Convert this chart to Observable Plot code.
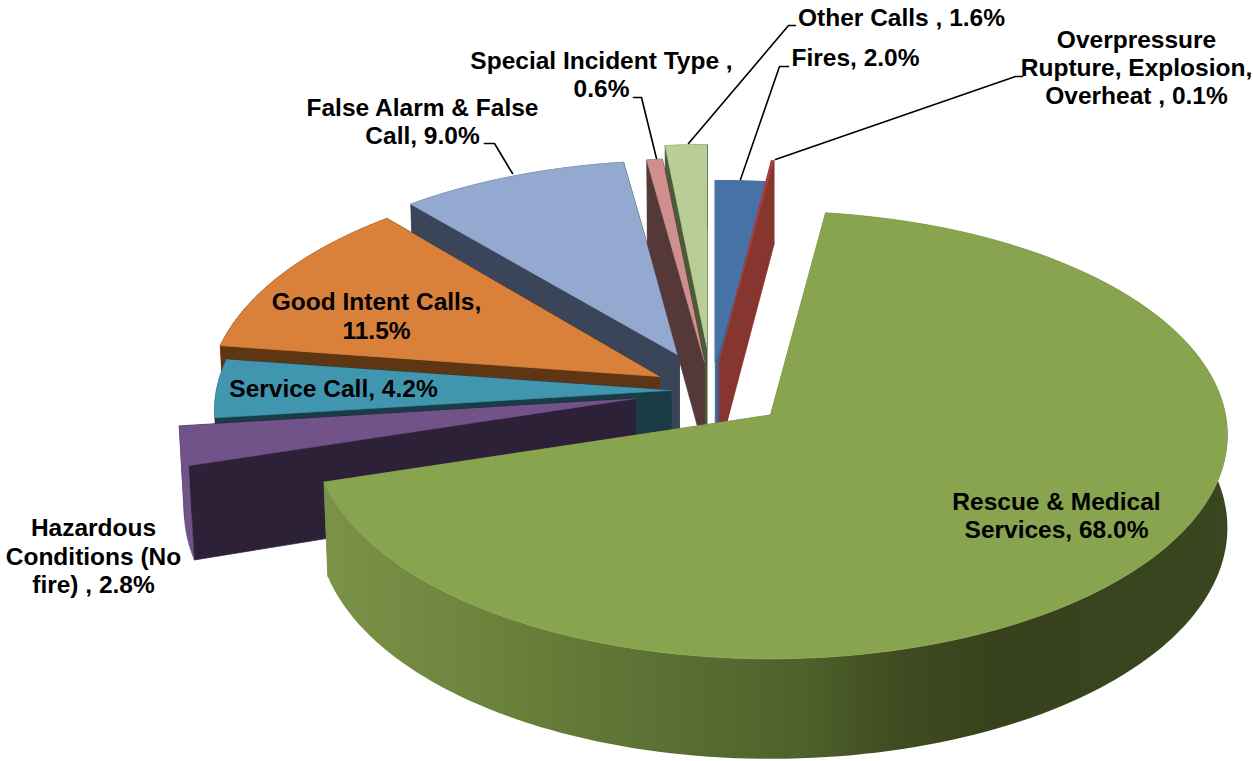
<!DOCTYPE html>
<html>
<head>
<meta charset="utf-8">
<script src="https://cdn.jsdelivr.net/npm/d3@7"></script>
<script src="https://cdn.jsdelivr.net/npm/@observablehq/plot@0.6"></script>
<style>
html,body{margin:0;padding:0;background:#fff;overflow:hidden}
svg{display:block}
</style>
</head>
<body>
<div id="chart"></div>
<script>
// Data
const categories = ["Fires","Overpressure Rupture, Explosion, Overheat","Rescue & Medical Services","Hazardous Conditions (No fire)","Service Call","Good Intent Calls","False Alarm & False Call","Special Incident Type","Other Calls"];
const shares = [2.0,0.1,68.0,2.8,4.2,11.5,9.0,0.6,1.6];
const labelTexts = ["Fires, 2.0%","Overpressure\nRupture, Explosion,\nOverheat , 0.1%","Rescue & Medical\nServices, 68.0%","Hazardous\nConditions (No\nfire) , 2.8%","Service Call, 4.2%","Good Intent Calls,\n11.5%","False Alarm & False\nCall, 9.0%","Special Incident Type ,\n0.6%","Other Calls , 1.6%"];

// Look of the slices
const topColors = ["#4672a8","#a8403e","#88a44e","#715289","#4095af","#d9813b","#93a9cf","#cf8f8e","#b9cd96"];
const wallColors = ["#3a6696","#87352f","#78914a","#2c2137","#1a3c47","#5e3614","#3b4559","#553838","#4c5a38"];
const rimColors = ["#3a6696","#87352f","url(#greenWall)","#715289","#1a3c47","#5e3614","#3b4559","#553838","#4c5a38"];
const explode = [0.13,0.126,0.17,0.17,0.088,0.13,0.17,0.13,0.19];
const reachX = [1,1,1,1,1,0.988,0.975,1,1];
const reachY = [0.89,1,1,1,1,1,0.96,1,1];
const drawOrder = [6,8,7,0,1,5,4,3,2];

// Projection of the tilted pie
const W = 1253, H = 761;
const cx = 711, cy = 390, R = 455, Rt = 222, persp = 0.09;
const rad = d => d * Math.PI / 180;
const rampX = [320,500,650,800,900,1000,1228];
const rampColors = ["#7a9349","#6a8239","#5c7134","#4f612c","#3f4b20","#37421c","#3a4620"];

let acc = 0;
const slices = shares.map((v,i) => {
  const a0 = acc / d3.sum(shares) * 360; acc += v;
  const a1 = acc / d3.sum(shares) * 360;
  const m = rad((a0+a1)/2);
  return {i,a0,a1,ax: cx + explode[i]*R*Math.sin(m), ay: cy - explode[i]*Rt*Math.cos(m)};
});
function rim(s,deg,down){
  const t = rad(deg), k = 1/(1+persp*Math.cos(t));
  const h = 92 - 8*Math.cos(t);
  const x = s.ax + reachX[s.i]*R*Math.sin(t)*k;
  return {x: x - Math.min(x-cx,0)*0.01*down, y: s.ay - reachY[s.i]*Rt*Math.cos(t)*k + h*down};
}
const apex = (s,down) => ({x:s.ax, y:s.ay + 90*down});
function arc(s,down){
  const n = Math.max(2,Math.ceil((s.a1-s.a0)/1.5)), out=[];
  for(let j=0;j<=n;j++) out.push(rim(s,s.a0+(s.a1-s.a0)*j/n,down));
  return out;
}
const poly = (pts,color,sw=0.7) => Plot.line(pts,{x:"x",y:"y",fill:color,stroke:color,strokeWidth:sw});
const radial = (s,a) => poly([apex(s,0),rim(s,a,0),rim(s,a,1),apex(s,1)],wallColors[s.i]);

const gradientDefs = (index,scales) => {
  const defs = d3.create("svg:defs");
  const g = defs.append("linearGradient").attr("id","greenWall")
    .attr("gradientUnits","userSpaceOnUse")
    .attr("x1",scales.x(rampX[0])).attr("x2",scales.x(rampX[rampX.length-1])).attr("y1",0).attr("y2",0);
  rampX.forEach((x,j)=>g.append("stop")
    .attr("offset",(x-rampX[0])/(rampX[rampX.length-1]-rampX[0]))
    .attr("stop-color",rampColors[j]));
  return defs.node();
};

const marks = [gradientDefs];
for(const i of drawOrder){
  const s = slices[i];
  marks.push(radial(s,s.a1));
  marks.push(poly([...arc(s,0),...arc(s,1).reverse()],rimColors[i],i===2?0:0.7));
  marks.push(radial(s,s.a0));
  marks.push(poly([apex(s,0),...arc(s,0)],topColors[i]));
}

// Leader lines and label anchors
const leaders = [
  [[512,173],[494,143],[484,143]],
  [[656,158],[641,97],[633,97]],
  [[688,143],[788,25],[795,25]],
  [[740,179],[779,66],[788,66]],
  [[775,159],[1015,76],[1022,76]]
];
for(const l of leaders){
  marks.push(Plot.line(l,{x:d=>d[0],y:d=>d[1],stroke:"#000",strokeWidth:1.6}));
}
const labelX = [855,1136,1056,93,333,376,422,601,901];
const labelY = [56.5,66.5,514.5,555,387,315,120.5,73.5,16.5];
const labels = labelTexts.map((text,i)=>({text,x:labelX[i],y:labelY[i]}));
marks.push(Plot.text(labels,{x:"x",y:"y",text:"text",fill:"#000",fontWeight:"bold",fontSize:24.5,
  lineHeight:1.15,textAnchor:"middle",lineAnchor:"middle",fontFamily:"Liberation Sans, Arial, sans-serif"}));

const chart = Plot.plot({
  width:W,height:H,margin:0,
  x:{domain:[0,W],range:[0,W],axis:null},
  y:{domain:[0,H],range:[0,H],axis:null},
  style:{background:"#fff"},
  marks
});
document.getElementById("chart").append(chart);
</script>
</body>
</html>
